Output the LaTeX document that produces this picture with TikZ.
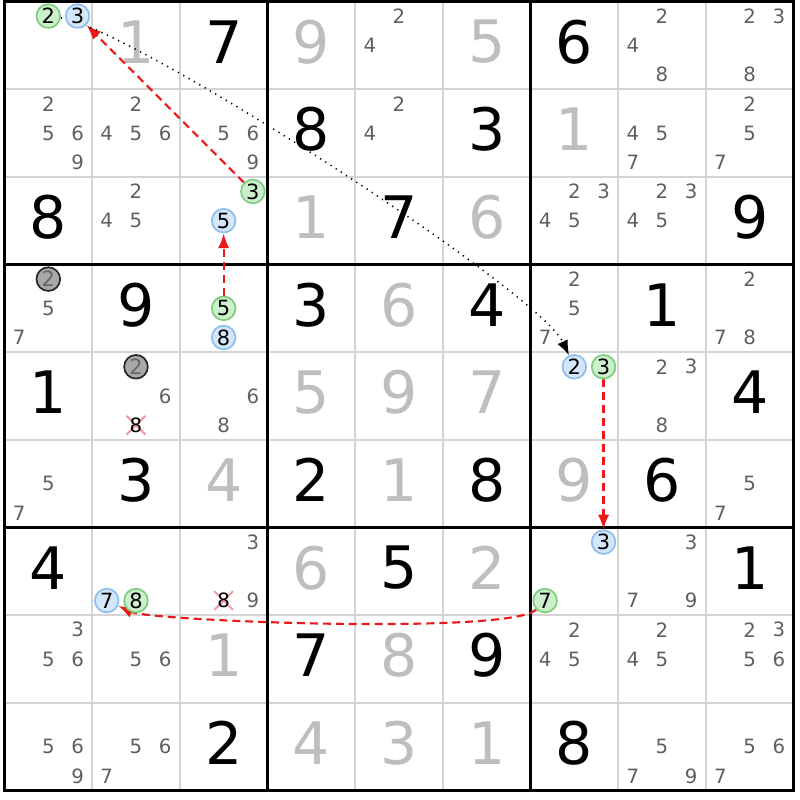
\documentclass[tikz,border=0pt]{standalone}
\usepackage{fontspec}
\setmainfont{DejaVu Sans}
\usetikzlibrary{arrows.meta, positioning}
\pgfdeclarelayer{links}
\pgfdeclarelayer{front}
\pgfsetlayers{main,links,front}
\definecolor{solvedgray}{RGB}{190,190,190}
\definecolor{candgray}{RGB}{95,95,95}
\definecolor{thingray}{RGB}{212,212,212}
\definecolor{greenfill}{RGB}{204,240,204}
\definecolor{greenline}{RGB}{125,205,125}
\definecolor{bluefill}{RGB}{212,230,250}
\definecolor{blueline}{RGB}{140,190,240}
\definecolor{ringgray}{RGB}{168,168,168}
\definecolor{linkred}{RGB}{235,25,25}
\definecolor{strikepink}{RGB}{240,150,160}

\begin{document}
\begin{tikzpicture}[
        given/.style={text=black, inner sep=0pt, font=\fontsize{19}{19}\selectfont},
        solved/.style={text=solvedgray, inner sep=0pt, font=\fontsize{19}{19}\selectfont},
        cand/.style={text=candgray, inner sep=0pt, font=\fontsize{6.4}{6.4}\selectfont},
        ring/.style={circle, minimum size=0.27cm, inner sep=0pt, line width=0.55pt, text=black, font=\fontsize{6.8}{6.8}\selectfont},
        greenring/.style={ring, draw=greenline, fill=greenfill},
        bluering/.style={ring, draw=blueline, fill=bluefill},
        grayring/.style={ring, draw=black!85, fill=ringgray, text=black!60},
        struck/.style={inner sep=0pt, minimum size=0.2cm, text=black, font=\fontsize{6.4}{6.4}\selectfont},
        strikeline/.style={draw=strikepink, line width=0.6pt},
        redlink/.style={draw=linkred, line width=0.7pt, dash pattern=on 2.6pt off 1.6pt, -{Latex[length=0.17cm,width=0.13cm]}},
        dotlink/.style={draw=black, line width=0.5pt, dash pattern=on 0.4pt off 1.6pt, -{Latex[length=0.17cm,width=0.13cm]}}
    ]
            \useasboundingbox (-0.051,-0.108) rectangle (9.074,9.017);

            \foreach \i in {1,2,4,5,7,8}{
                \draw[thingray, line width=0.5pt] (\i,0) -- (\i,9);
                \draw[thingray, line width=0.5pt] (0,\i) -- (9,\i);
            }
            \foreach \i in {0,3,6,9}{
                \draw[black, line width=1pt] (\i,-0.017) -- (\i,9.017);
                \draw[black, line width=1pt] (-0.017,\i) -- (9.017,\i);
            }

            \foreach \r/\c/\d in {1/3/7, 1/7/6, 2/4/8, 2/6/3, 3/1/8, 3/5/7, 3/9/9, 4/2/9, 4/4/3, 4/6/4, 4/8/1, 5/1/1, 5/9/4, 6/2/3, 6/4/2, 6/6/8, 6/8/6, 7/1/4, 7/5/5, 7/9/1, 8/4/7, 8/6/9, 9/3/2, 9/7/8}{
                \node[given] (v\r\c) at (\c-0.5, 9.54-\r) {\d};
            }
            \foreach \r/\c/\d in {1/2/1, 1/4/9, 1/6/5, 2/7/1, 3/4/1, 3/6/6, 4/5/6, 5/4/5, 5/5/9, 5/6/7, 6/3/4, 6/5/1, 6/7/9, 7/4/6, 7/6/2, 8/3/1, 8/5/8, 9/4/4, 9/5/3, 9/6/1}{
                \node[solved] (s\r\c) at (\c-0.5, 9.54-\r) {\d};
            }

            \foreach \r/\c/\ds in {1/5/{2,4}, 1/8/{2,4,8}, 1/9/{2,3,8}, 2/1/{2,5,6,9}, 2/2/{2,4,5,6}, 2/3/{5,6,9}, 2/5/{2,4}, 2/8/{4,5,7}, 2/9/{2,5,7}, 3/2/{2,4,5}, 3/7/{2,3,4,5}, 3/8/{2,3,4,5}, 4/1/{5,7}, 4/7/{2,5,7}, 4/9/{2,7,8}, 5/2/{6}, 5/3/{6,8}, 5/8/{2,3,8}, 6/1/{5,7}, 6/9/{5,7}, 7/3/{3,9}, 7/8/{3,7,9}, 8/1/{3,5,6}, 8/2/{5,6}, 8/7/{2,4,5}, 8/8/{2,4,5}, 8/9/{2,3,5,6}, 9/1/{5,6,9}, 9/2/{5,6,7}, 9/8/{5,7,9}, 9/9/{5,6,7}}{
                \foreach \d in \ds{
                    \node[cand] (n\r\c\d) at ({\c-1+(2*mod(\d-1,3)+1)/6}, {10-\r-(2*floor((\d-1)/3)+1)/6}) {\d};
                }
            }

            \begin{pgfonlayer}{front}
                \node[greenring] (g11) at (0.5,8.8333) {2};
                \node[bluering] (b11) at (0.8333,8.8333) {3};
                \node[greenring] (g33) at (2.8333,6.8333) {3};
                \node[bluering] (b33) at (2.5,6.5) {5};
                \node[greenring] (g43) at (2.5,5.5) {5};
                \node[bluering] (b43) at (2.5,5.1667) {8};
                \node[grayring] (k41) at (0.5,5.8333) {2};
                \node[grayring] (k52) at (1.5,4.8333) {2};
                \node[bluering] (b57) at (6.5,4.8333) {2};
                \node[greenring] (g57) at (6.8333,4.8333) {3};
                \node[bluering] (b72) at (1.1667,2.1667) {7};
                \node[greenring] (g72) at (1.5,2.1667) {8};
                \node[bluering] (b77) at (6.8333,2.8333) {3};
                \node[greenring] (g77) at (6.1667,2.1667) {7};
                \node[struck] (x528) at (1.5,4.1667) {8};
                \node[struck] (x738) at (2.5,2.1667) {8};
            \end{pgfonlayer}

            \begin{pgfonlayer}{links}
                \draw[strikeline] (x528.south west) -- (x528.north east);
                \draw[strikeline] (x528.north west) -- (x528.south east);
                \draw[strikeline] (x738.south west) -- (x738.north east);
                \draw[strikeline] (x738.north west) -- (x738.south east);
                \draw[redlink] (g33) -- (b11);
                \draw[redlink] (g43) -- (b33);
                \draw[dotlink] (g11) to[out=-8, in=115, looseness=0.3] (b57);
                \draw[redlink] (g57) -- (b77);
                \draw[redlink] (g77) to[out=-135, in=-25, looseness=0.22] (b72);
            \end{pgfonlayer}
        \end{tikzpicture}
\end{document}
